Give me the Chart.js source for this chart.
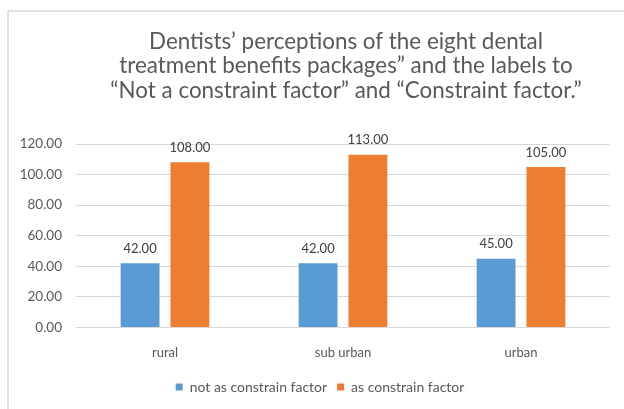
<!DOCTYPE html>
<html>
<head>
<meta charset="utf-8">
<script src="https://cdn.jsdelivr.net/npm/chart.js@4/dist/chart.umd.min.js"></script>
<style>
  html, body { margin: 0; padding: 0; background: #ffffff; }
  #wrap { position: relative; width: 624px; height: 409px; }
  canvas { display: block; }
</style>
</head>
<body>
<div id="wrap"><canvas id="c" width="624" height="409"></canvas></div>
<script>
// Areas and counts per response group
const categories = ['rural', 'sub urban', 'urban'];
const notConstraint = [42, 42, 45];
const asConstraint = [108, 113, 105];
const seriesNames = ['not as constrain factor', 'as constrain factor'];
const yTicks = [0, 20, 40, 60, 80, 100, 120];
const titleLines = [
  'Dentists\u2019 perceptions of the eight dental',
  'treatment benefits packages\u201d and the labels to',
  '\u201cNot a constraint factor\u201d and \u201cConstraint factor.\u201d'
];

const FONT = 'Lato, "Open Sans", sans-serif';

// Light frame around the whole chart plus the multi-line heading
const framePlugin = {
  id: 'frame',
  beforeDraw(chart) {
    const ctx = chart.ctx;
    ctx.save();
    ctx.fillStyle = '#ffffff';
    ctx.fillRect(0, 0, chart.width, chart.height);
    ctx.strokeStyle = '#d9d9d9';
    ctx.lineWidth = 1.5;
    ctx.strokeRect(8, 11, 1000, 1000);
    ctx.restore();
  },
  afterLayout(chart) {
    // nudge the legend row so it sits a little right of the canvas centre
    if (chart.legend) {
      chart.legend.left += 20;
    }
  },
  afterDraw(chart) {
    const ctx = chart.ctx;
    ctx.save();
    ctx.fillStyle = '#595959';
    ctx.font = '22.4px ' + FONT;
    ctx.textAlign = 'center';
    ctx.textBaseline = 'alphabetic';
    const cx = (chart.chartArea.left + chart.chartArea.right) / 2 + 3;
    titleLines.forEach((t, i) => ctx.fillText(t, cx, 48.5 + i * 24.5));
    ctx.restore();
  }
};

// Value labels above each bar
const valueLabels = {
  id: 'valueLabels',
  afterDatasetsDraw(chart) {
    const ctx = chart.ctx;
    ctx.save();
    ctx.fillStyle = '#404040';
    ctx.font = '13px ' + FONT;
    ctx.textAlign = 'center';
    ctx.textBaseline = 'bottom';
    chart.data.datasets.forEach((ds, di) => {
      const meta = chart.getDatasetMeta(di);
      meta.data.forEach((bar, i) => {
        ctx.fillText(ds.data[i].toFixed(2), bar.x, bar.y - 8);
      });
    });
    ctx.restore();
  }
};

new Chart(document.getElementById('c'), {
  type: 'bar',
  data: {
    labels: categories,
    datasets: [
      { label: seriesNames[0], data: notConstraint, backgroundColor: '#5b9bd5' },
      { label: seriesNames[1], data: asConstraint, backgroundColor: '#ed7d31' }
    ]
  },
  options: {
    responsive: false,
    animation: false,
    devicePixelRatio: 1,
    layout: { padding: { left: 10, right: 14, top: 144, bottom: 5 } },
    datasets: { bar: { categoryPercentage: 0.56, barPercentage: 0.78 } },
    plugins: {
      title: { display: false },
      tooltip: { enabled: false },
      legend: {
        position: 'bottom',
        labels: {
          boxWidth: 7,
          boxHeight: 7,
          color: '#595959',
          font: { family: FONT, size: 14 },
          padding: 10
        }
      }
    },
    scales: {
      x: {
        grid: { display: false },
        border: { display: false },
        ticks: { color: '#595959', font: { family: FONT, size: 13 }, padding: 9.5 }
      },
      y: {
        min: 0,
        max: 120,
        afterBuildTicks(scale) { scale.ticks = yTicks.map(v => ({ value: v })); },
        afterFit(scale) { scale.width = 66; },
        grid: { color: '#d9d9d9', lineWidth: 1, drawTicks: false },
        border: { display: false },
        ticks: {
          color: '#595959',
          font: { family: FONT, size: 13.5 },
          padding: 14,
          callback: v => Number(v).toFixed(2)
        }
      }
    }
  },
  plugins: [framePlugin, valueLabels]
});
</script>
</body>
</html>
